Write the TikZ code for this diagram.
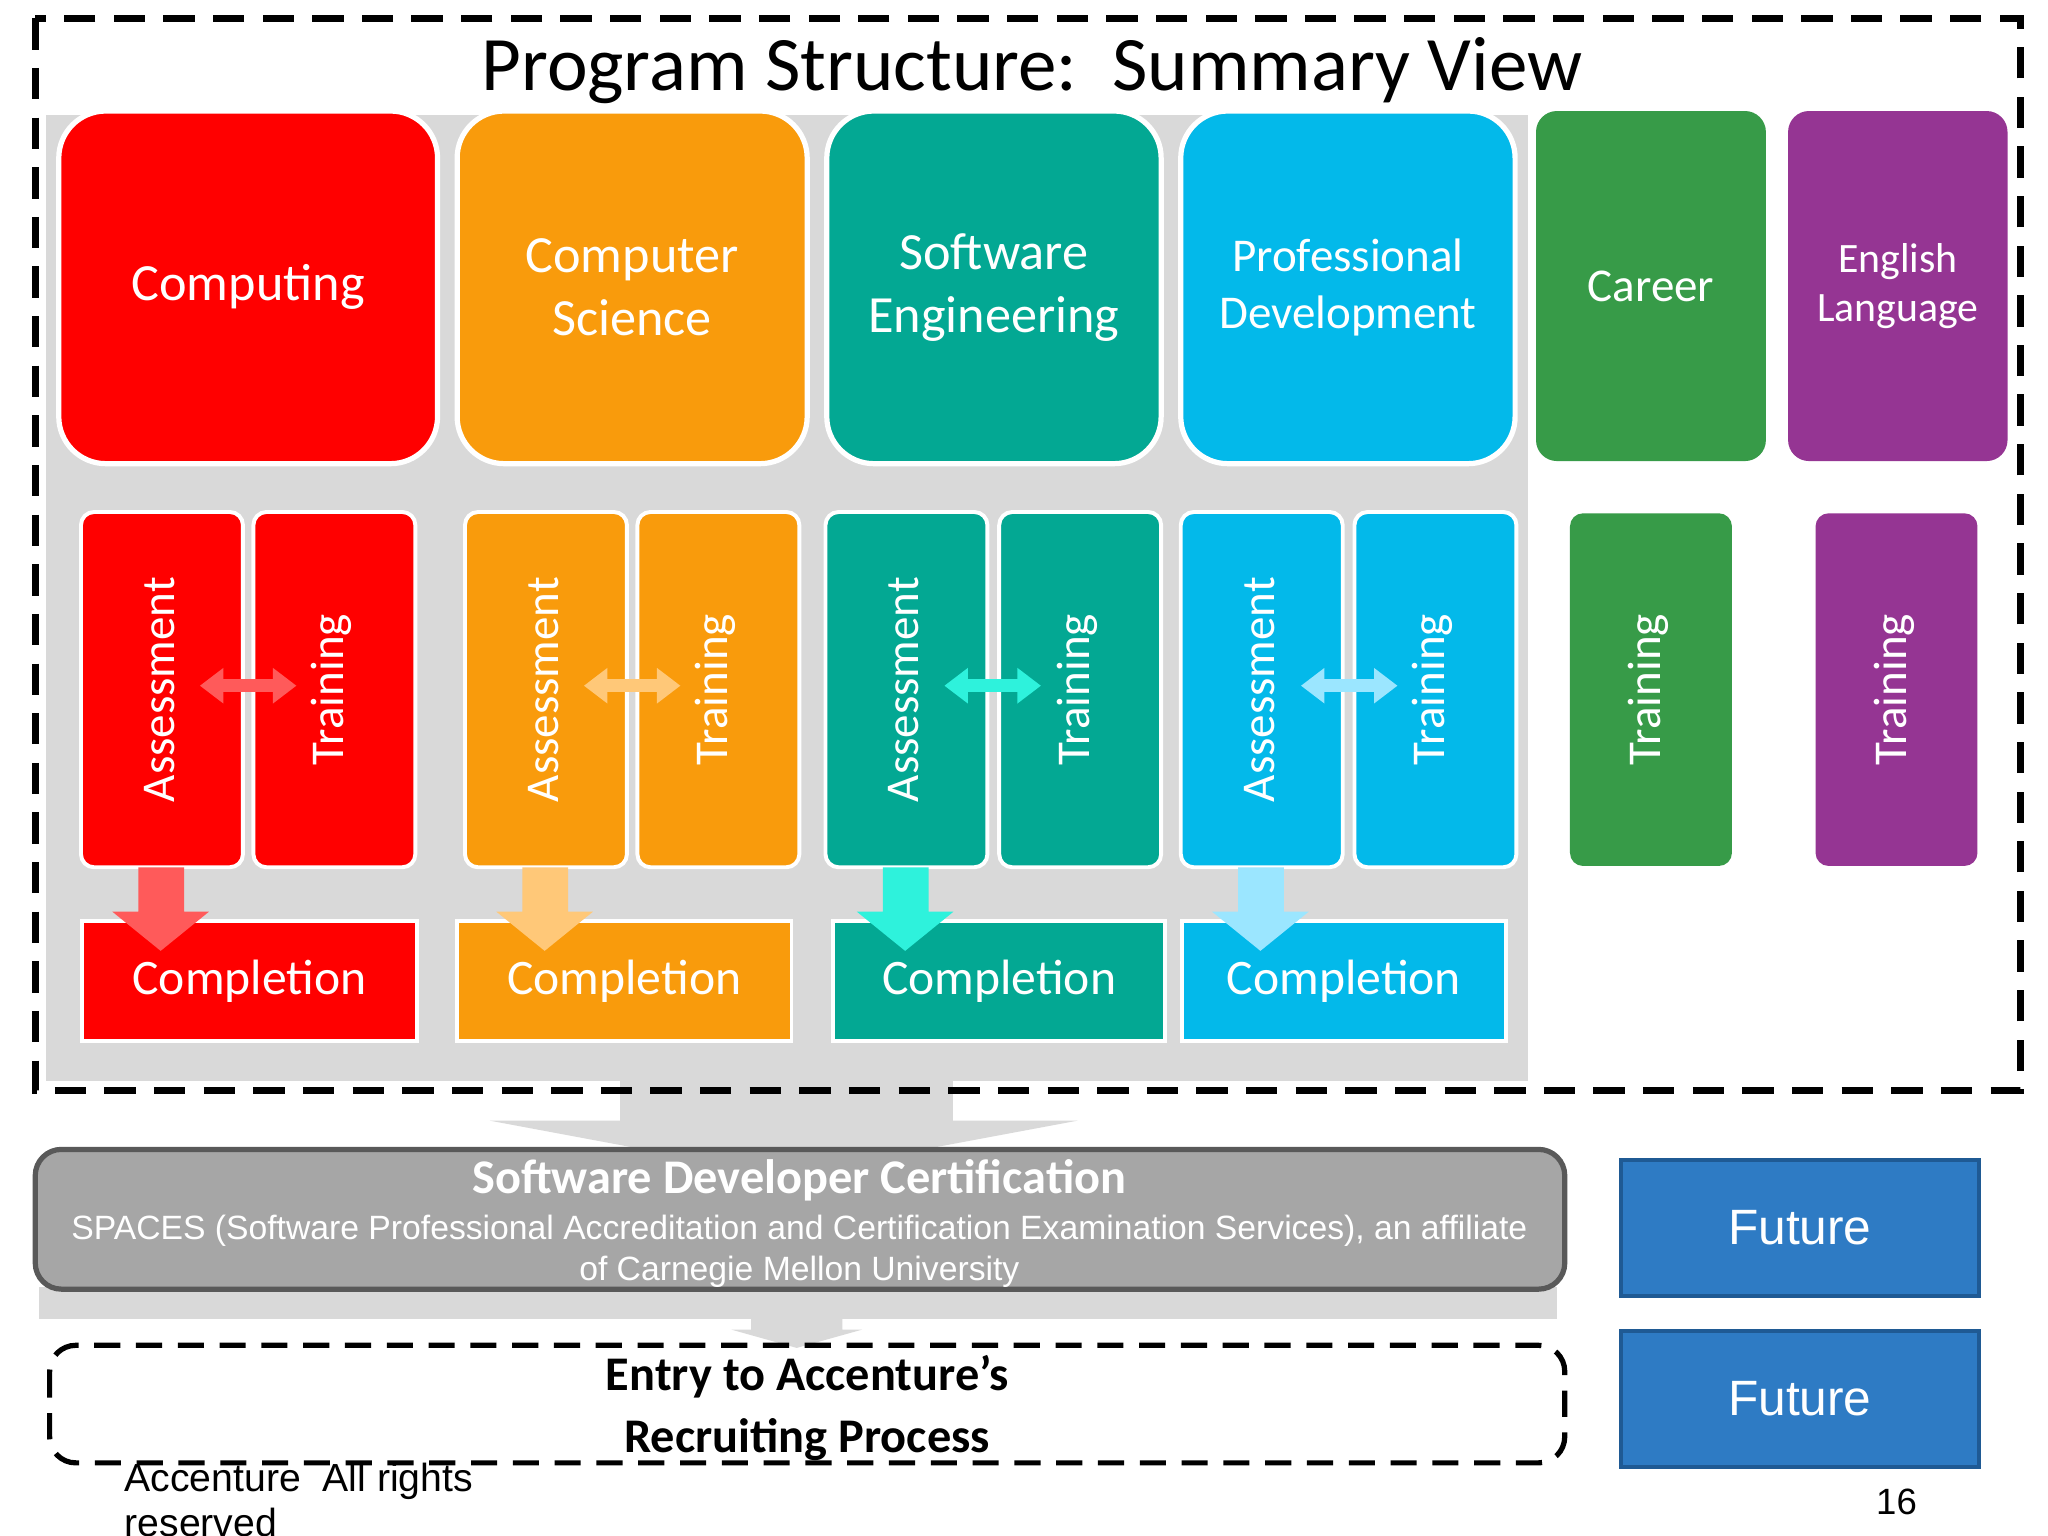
\documentclass[tikz,border=0pt]{standalone}
\usepackage{fontspec}
\setmainfont{Carlito}
\newfontfamily\arial{Liberation Sans}
\usetikzlibrary{arrows.meta}
\definecolor{cred}{HTML}{FF0000}\definecolor{lred}{HTML}{FF5A5A}
\definecolor{cora}{HTML}{F99B0C}\definecolor{lora}{HTML}{FFC878}
\definecolor{cteal}{HTML}{03A893}\definecolor{lteal}{HTML}{2EF2DC}
\definecolor{cblue}{HTML}{03B9EA}\definecolor{lblue}{HTML}{9BE6FF}
\definecolor{cgreen}{HTML}{379B48}\definecolor{cpurp}{HTML}{953593}
\definecolor{bgg}{HTML}{D9D9D9}\definecolor{certg}{HTML}{A6A6A6}
\definecolor{fut}{HTML}{2E7BC4}\definecolor{futb}{HTML}{1F5A94}
\tikzset{
 big/.style={rounded corners=18pt,draw=white,line width=2pt,text=white,align=center,font=\fontsize{20}{24}\selectfont},
 sub/.style={rounded corners=5pt,draw=white,line width=1.5pt,text=white,font=\fontsize{17}{20}\selectfont},
 comp/.style={draw=white,line width=1.5pt,text=white,font=\fontsize{19}{20}\selectfont},
 fut/.style={draw=futb,line width=1.5pt,fill=fut,text=white,font=\arial\fontsize{19}{22}\selectfont},
 rlab/.style={rotate=90,text=white,font=\fontsize{18}{20}\selectfont},
}
\begin{document}
\begin{tikzpicture}[x=0.5pt,y=-0.5pt]
\useasboundingbox (0,0) rectangle (1568,1176);
\fill[white] (0,0) rectangle (1568,1176);
\fill[bgg] (35,88) rectangle (1170,828);
\fill[bgg] (475,828) rectangle (730,858);
\fill[bgg] (375,858) -- (825,858) -- (600,900) -- cycle;
\fill[bgg] (30,985) rectangle (1192,1010);
\fill[bgg] (575,1010) rectangle (645,1018) (560,1018) -- (660,1018) -- (610,1032) -- cycle;
\draw[line width=2.5pt,dash pattern=on 12pt off 7pt] (27,14) rectangle (1547,835);
\node[font=\fontsize{29.5}{32}\selectfont] (title) at (790,54) {Program Structure:\ \ Summary View};
\node[big,fill=cred,minimum width=145pt,minimum height=135pt] (c1) at (190,220) {Computing};
\node[big,fill=cora,minimum width=134pt,minimum height=135pt] (c2) at (484,220) {Computer\\Science};
\node[big,fill=cteal,minimum width=128pt,minimum height=135pt] (c3) at (761,220) {Software\\Engineering};
\node[big,fill=cblue,minimum width=128pt,minimum height=135pt,font=\fontsize{18}{22}\selectfont] (c4) at (1032,220) {Professional\\Development};
\node[big,draw=none,rounded corners=8pt,fill=cgreen,minimum width=88pt,minimum height=134pt,font=\fontsize{18}{20}\selectfont] (c5) at (1264,219) {Career};
\node[big,draw=none,rounded corners=8pt,fill=cpurp,minimum width=84pt,minimum height=134pt,font=\fontsize{16}{19}\selectfont] (c6) at (1453,219) {English\\Language};
\foreach \n/\ax/\tx/\mx/\col/\lc/\cx/\cw in {1/124/256/190/cred/lred/191/128, 2/418/550/484/cora/lora/478/128, 3/694/827/760/cteal/lteal/765/127, 4/966/1099/1033/cblue/lblue/1029/124}{
 \node[sub,fill=\col,minimum width=62pt,minimum height=136pt] (a\n) at (\ax,528) {};
 \node[sub,fill=\col,minimum width=62pt,minimum height=136pt] (t\n) at (\tx,528) {};
 \node[rlab] (al\n) at (\ax-2,528) {Assessment};
 \node[rlab] (tl\n) at (\tx-2,528) {Training};
 \coordinate (d\n) at (\mx-37,525);
 \coordinate (e\n) at (\mx+37,525);
 \draw[\lc,line width=5pt,{Triangle[length=9pt,width=13pt]}-{Triangle[length=9pt,width=13pt]}] (d\n) -- (e\n);
 \node[comp,fill=\col,minimum width=\cw pt,minimum height=46pt] (cp\n) at (\cx,751) {Completion};
 \fill[\lc] (\ax-18,664) rectangle (\ax+17,698) (\ax-38,698) -- (\ax+36,698) -- (\ax-1,728) -- cycle;
}
\node[sub,draw=none,fill=cgreen,minimum width=62pt,minimum height=135pt] (t5) at (1264,528) {};
\node[rlab] (tl5) at (1262,528) {Training};
\node[sub,draw=none,fill=cpurp,minimum width=62pt,minimum height=135pt] (t6) at (1452,528) {};
\node[rlab] (tl6) at (1450,528) {Training};
\draw[rounded corners=10pt,fill=certg,draw=black!65,line width=2pt] (27,880) rectangle (1198,987);
\node[text=white,font=\bfseries\fontsize{18.5}{20}\selectfont] (cert) at (612,904) {Software Developer Certification};
\node[text=white,align=center,font=\arial\fontsize{12.9}{15.5}\selectfont] (certs) at (612,958) {SPACES (Software Professional Accreditation and Certification Examination Services), an affiliate\\of Carnegie Mellon University};
\draw[rounded corners=10pt,line width=2pt,dash pattern=on 10pt off 6pt] (38,1030) rectangle (1198,1120);
\node[align=center,font=\bfseries\fontsize{18.5}{23.5}\selectfont] (entry) at (618,1078) {Entry to Accenture’s\\Recruiting Process};
\node[fut,minimum width=137pt,minimum height=52pt] (f1) at (1378,940) {Future};
\node[fut,minimum width=137pt,minimum height=52pt] (f2) at (1378,1071) {Future};
\node[font=\arial\fontsize{14}{17}\selectfont] (pg) at (1452,1150) {16};
\node[anchor=north west,align=left,font=\arial\fontsize{15}{17}\selectfont,inner sep=0pt] (copy) at (95,1120) {Accenture\ \ All rights\\reserved};
\end{tikzpicture}
\end{document}
